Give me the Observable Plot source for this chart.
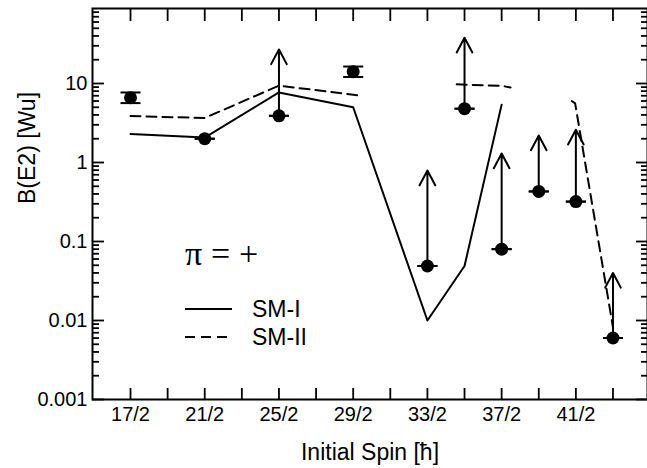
<!DOCTYPE html>
<html><head><meta charset="utf-8">
<script src="https://cdn.jsdelivr.net/npm/d3@7"></script>
<script src="https://cdn.jsdelivr.net/npm/@observablehq/plot@0.6"></script>
<style>
body{margin:0;background:#fff;}
#wrap{position:relative;width:647px;height:468px;overflow:hidden;}
#wrap svg{display:block;}
#legend{position:absolute;left:0;top:0;pointer-events:none;}
</style></head><body><div id="wrap"></div>
<script>
// Measured transitions (initial spin in units of hbar)
const spins   = [8.5, 10.5, 12.5, 14.5, 16.5, 17.5, 18.5, 19.5, 20.5, 21.5];
const bE2     = [6.6, 2.0, 3.9, 14.1, 0.049, 4.8, 0.08, 0.43, 0.32, 0.006];
const errLow  = [5.65, 2.0, 3.9, 12.1, 0.049, 4.8, 0.08, 0.43, 0.32, 0.006];
const errHigh = [7.7, 2.0, 3.9, 16.4, 0.049, 4.8, 0.08, 0.43, 0.32, 0.006];
const lowerLimitArrowTo = [null, null, 27, null, 0.79, 38, 1.3, 2.2, 2.6, 0.04];

// Shell model SM-I (solid)
const smISpin  = [8.5, 10.5, 12.5, 14.5, 16.5, 17.5, 18.5];
const smIValue = [2.3, 2.07, 7.7, 5.0, 0.01, 0.049, 5.4];

// Shell model SM-II (dashed, three segments)
const smIISpin    = [8.5, 10.5, 12.5, 14.74, 17.29, 18.5, 18.74, 20.39, 20.48, 21.5];
const smIIValue   = [3.87, 3.66, 9.4, 7.0, 9.75, 9.35, 8.9, 6.0, 5.6, 0.0082];
const smIISegment = [1, 1, 1, 1, 2, 2, 2, 3, 3, 3];

// Axis ticks
const xTicks = [8.5, 9.5, 10.5, 11.5, 12.5, 13.5, 14.5, 15.5, 16.5, 17.5, 18.5, 19.5, 20.5, 21.5];
const xLabelSpins = [8.5, 10.5, 12.5, 14.5, 16.5, 18.5, 20.5];
const xLabelText  = ["17/2", "21/2", "25/2", "29/2", "33/2", "37/2", "41/2"];
const yMajor = [0.001, 0.01, 0.1, 1, 10];
const yLabelText = ["0.001", "0.01", "0.1", "1", "10"];
const yMinor = [];
for (const dec of [0.001, 0.01, 0.1, 1, 10]) for (let k = 2; k <= 9; k++) { const v = +(k * dec).toPrecision(3); if (v < 89) yMinor.push(v); }

const xLab = new Map(xLabelSpins.map((s, i) => [s, xLabelText[i]]));
const yLab = new Map(yMajor.map((v, i) => [v, yLabelText[i]]));

const pts = spins.map((s, i) => ({spin: s, v: bE2[i], lo: errLow[i], hi: errHigh[i], up: lowerLimitArrowTo[i]}));
const smI = smISpin.map((s, i) => ({spin: s, v: smIValue[i]}));
const smII = smIISpin.map((s, i) => ({spin: s, v: smIIValue[i], seg: smIISegment[i]}));
const capHalf = 0.27;

const tickOpts = {fill: "none", label: null, strokeWidth: 1.8};
const chart = Plot.plot({
  width: 647, height: 468,
  marginLeft: 92, marginRight: 0, marginTop: 8, marginBottom: 69,
  style: {fontFamily: "'Liberation Sans', Arial, sans-serif", fontSize: "20px", color: "#000", background: "#fff"},
  x: {domain: [7.476, 22.43]},
  y: {type: "log", domain: [0.001, 89]},
  marks: [
    Plot.axisY({anchor: "left", ticks: yMajor, tickSize: -12, ...tickOpts}),
    Plot.axisY({anchor: "left", ticks: yMinor, tickSize: -7, ...tickOpts}),
    Plot.axisY({anchor: "right", ticks: yMajor, tickSize: -12, ...tickOpts}),
    Plot.axisY({anchor: "right", ticks: yMinor, tickSize: -7, ...tickOpts}),
    Plot.axisY({anchor: "left", ticks: yMajor, tickSize: 0, tickPadding: 5, tickFormat: d => yLab.get(d), label: null}),
    Plot.axisX({anchor: "bottom", ticks: xTicks, tickSize: -11, ...tickOpts}),
    Plot.axisX({anchor: "top", ticks: xTicks, tickSize: -12, ...tickOpts}),
    Plot.axisX({anchor: "bottom", ticks: xLabelSpins, tickSize: 0, tickPadding: 7, tickFormat: d => xLab.get(d), label: null}),
    Plot.frame({strokeWidth: 2}),
    Plot.text(["B(E2) [Wu]"], {frameAnchor: "left", dx: -65, rotate: -90, fontSize: 23}),
    Plot.text(["Initial Spin [ħ]"], {frameAnchor: "bottom", dy: 60, fontSize: 23}),
    Plot.line(smI, {x: "spin", y: "v", stroke: "black", strokeWidth: 2}),
    Plot.line(smII, {x: "spin", y: "v", z: "seg", stroke: "black", strokeWidth: 2, strokeDasharray: "10,6"}),
    Plot.arrow(pts.filter(d => d.up != null), {x: "spin", y1: "v", y2: "up", stroke: "black", strokeWidth: 2, headLength: 12.5, headAngle: 56}),
    Plot.ruleX(pts, {x: "spin", y1: "lo", y2: "hi", stroke: "black", strokeWidth: 2}),
    Plot.link(pts, {x1: d => d.spin - capHalf, x2: d => d.spin + capHalf, y1: "lo", y2: "lo", stroke: "black", strokeWidth: 2}),
    Plot.link(pts, {x1: d => d.spin - capHalf, x2: d => d.spin + capHalf, y1: "hi", y2: "hi", stroke: "black", strokeWidth: 2}),
    Plot.dot(pts, {x: "spin", y: "v", r: 6.5, fill: "black"})
  ]
});
const wrap = document.getElementById("wrap");
wrap.appendChild(chart);

// In-plot legend overlay
const lg = d3.select(wrap).append("svg").attr("id", "legend").attr("width", 647).attr("height", 468);
const serif = "'Liberation Serif', 'DejaVu Serif', serif";
lg.append("text").attr("x", 185).attr("y", 265).attr("font-family", serif).attr("font-size", 34).text("π");
lg.append("text").attr("x", 211).attr("y", 265).attr("font-family", serif).attr("font-size", 34).text("=");
lg.append("text").attr("x", 239).attr("y", 265).attr("font-family", serif).attr("font-size", 34).text("+");
lg.append("line").attr("x1", 185).attr("x2", 232).attr("y1", 309).attr("y2", 309).attr("stroke", "black").attr("stroke-width", 2);
lg.append("line").attr("x1", 185).attr("x2", 232).attr("y1", 337).attr("y2", 337).attr("stroke", "black").attr("stroke-width", 2).attr("stroke-dasharray", "10,6");
lg.append("text").attr("x", 252).attr("y", 317).attr("font-family", "'Liberation Sans', Arial, sans-serif").attr("font-size", 23).text("SM-I");
lg.append("text").attr("x", 252).attr("y", 345).attr("font-family", "'Liberation Sans', Arial, sans-serif").attr("font-size", 23).text("SM-II");
</script></body></html>
